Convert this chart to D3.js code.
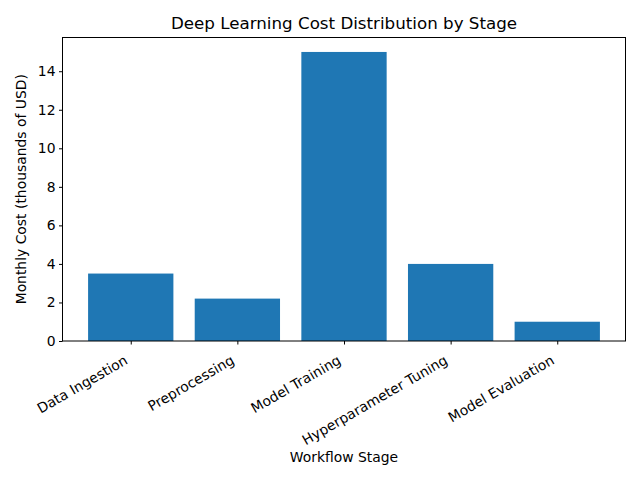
<!DOCTYPE html>
<html><head><meta charset="utf-8">
<script src="https://cdn.jsdelivr.net/npm/d3@7"></script>
<style>body{margin:0;background:#fff}svg{display:block}text{font-family:"DejaVu Sans",sans-serif}</style>
</head><body>
<svg id="chart" width="640" height="480"></svg>
<script>
const categories = ["Data Ingestion","Preprocessing","Model Training","Hyperparameter Tuning","Model Evaluation"];
const costs = [3.5, 2.2, 15, 4.0, 1.0];
const yTicks = [0,2,4,6,8,10,12,14];

const svg = d3.select("#chart");
const m = {left:62.5, right:625.5, top:37.5, bottom:341};
const idx = categories.map((d,i)=>i);
const x = d3.scaleLinear().domain([-0.64, 4.64]).range([m.left, m.right]);
const y = d3.scaleLinear().domain([0, 15.75]).range([m.bottom, m.top]);
const bw = x(0.8) - x(0);

svg.append("g").selectAll("rect").data(costs).join("rect")
  .attr("x",(d,i)=>x(i-0.4)).attr("width",bw)
  .attr("y",d=>y(d)).attr("height",d=>y(0)-y(d))
  .attr("fill","#1f77b4");

// frame
svg.append("rect").attr("x",m.left).attr("y",m.top).attr("width",m.right-m.left).attr("height",m.bottom-m.top)
  .attr("fill","none").attr("stroke","#000").attr("stroke-width",1);

// y axis
const ya = svg.append("g").attr("transform",`translate(${m.left},0)`)
  .call(d3.axisLeft(y).tickValues(yTicks).tickSize(3.5).tickPadding(3.5).tickFormat(d3.format("d")));
ya.select(".domain").remove();
ya.selectAll("text").attr("font-size","13.9px").attr("font-family","DejaVu Sans").attr("fill","#000");
ya.selectAll("line").attr("stroke","#000");

// x axis
const xa = svg.append("g").attr("transform",`translate(0,${m.bottom})`)
  .call(d3.axisBottom(x).tickValues(idx).tickSize(3.5).tickFormat(""));
xa.select(".domain").remove();
xa.selectAll("line").attr("stroke","#000");

svg.append("g").selectAll("text").data(categories).join("text")
  .attr("transform",(d,i)=>`translate(${x(i)-2},${363}) rotate(-30)`)
  .attr("text-anchor","end").attr("font-size","13.9px").attr("fill","#000")
  .text(d=>d);

svg.append("text").attr("x",(m.left+m.right)/2).attr("y",29).attr("text-anchor","middle")
  .attr("font-size","16.7px").attr("fill","#000").text("Deep Learning Cost Distribution by Stage");
svg.append("text").attr("x",(m.left+m.right)/2).attr("y",462).attr("text-anchor","middle")
  .attr("font-size","13.9px").attr("fill","#000").text("Workflow Stage");
svg.append("text").attr("transform",`translate(26,${(m.top+m.bottom)/2}) rotate(-90)`).attr("text-anchor","middle")
  .attr("font-size","13.9px").attr("fill","#000").text("Monthly Cost (thousands of USD)");
</script>
</body></html>
